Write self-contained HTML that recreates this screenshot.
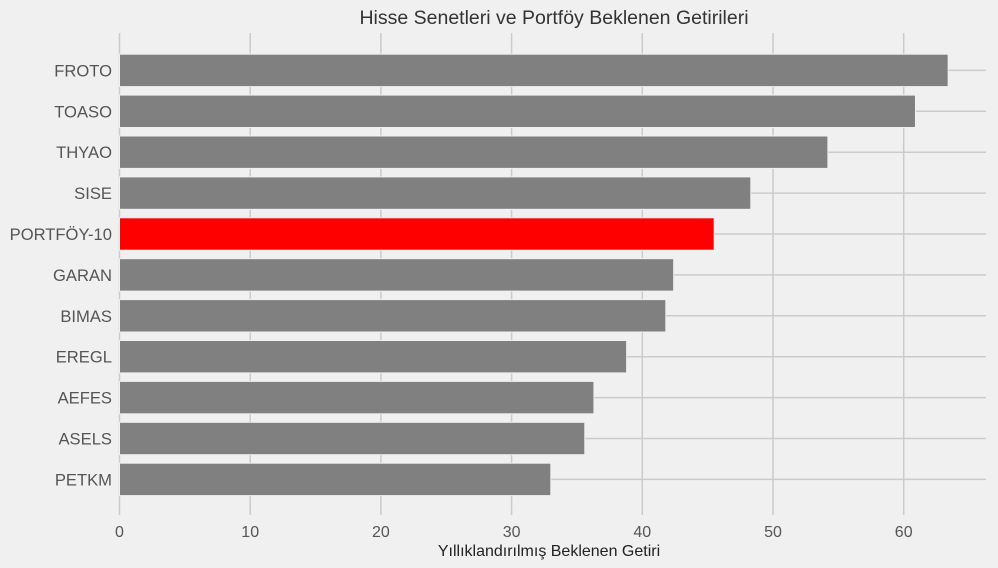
<!DOCTYPE html>
<html><head><meta charset="utf-8"><style>
body{margin:0;background:#f0f0f0;}
svg{display:block;font-family:"Liberation Sans",sans-serif;}
</style></head><body>
<svg id="chart" width="998" height="568">
<rect width="998" height="568" fill="#f0f0f0"/>
<text x="554" y="24" text-anchor="middle" font-size="19.5" fill="#333">Hisse Senetleri ve Portföy Beklenen Getirileri</text>
<g id="grid"></g><g id="bars"></g><g id="yticks"></g><g id="xticks"></g>
<text x="549" y="556" text-anchor="middle" font-size="16" fill="#222">Yıllıklandırılmış Beklenen Getiri</text>
</svg>
<script>
const categories=["FROTO","TOASO","THYAO","SISE","PORTFÖY-10","GARAN","BIMAS","EREGL","AEFES","ASELS","PETKM"];
const values=[63.4,60.9,54.2,48.3,45.5,42.4,41.8,38.8,36.3,35.6,33.0];
const highlight=["PORTFÖY-10"];
const xTicks=[0,10,20,30,40,50,60];
const NS="http://www.w3.org/2000/svg";
const x=v=>119.5+v*13.07;
const y=i=>70.4+i*40.9;
function mk(t,a,p){const e=document.createElementNS(NS,t);for(const k in a)e.setAttribute(k,a[k]);p.appendChild(e);return e;}
const grid=document.getElementById('grid'),bars=document.getElementById('bars'),yt=document.getElementById('yticks'),xt=document.getElementById('xticks');
xTicks.forEach(v=>{
 const l=mk('line',{x1:x(v),x2:x(v),y1:33,y2:515,stroke:'#cbcbcb','stroke-width':1.5},grid);
 
 
 const t=mk('text',{x:x(v),y:537,'text-anchor':'middle','font-size':16,fill:'#555'},xt);
 t.textContent=v;
 
 
});
categories.forEach((c,i)=>{
 const l=mk('line',{x1:119.5,x2:986,y1:y(i),y2:y(i),stroke:'#cbcbcb','stroke-width':1.5},grid);
 
 
 const r=mk('rect',{x:x(0),y:y(i)-16.2,width:x(values[i])-x(0),height:32.4,fill:highlight.includes(c)?'#ff0000':'#808080',stroke:'#f0f0f0','stroke-width':1},bars);
 
 
 const t=mk('text',{x:112,y:y(i)+6,'text-anchor':'end','font-size':16.6,fill:'#555'},yt);
 t.textContent=c;
 
 
});
</script>
</body></html>
